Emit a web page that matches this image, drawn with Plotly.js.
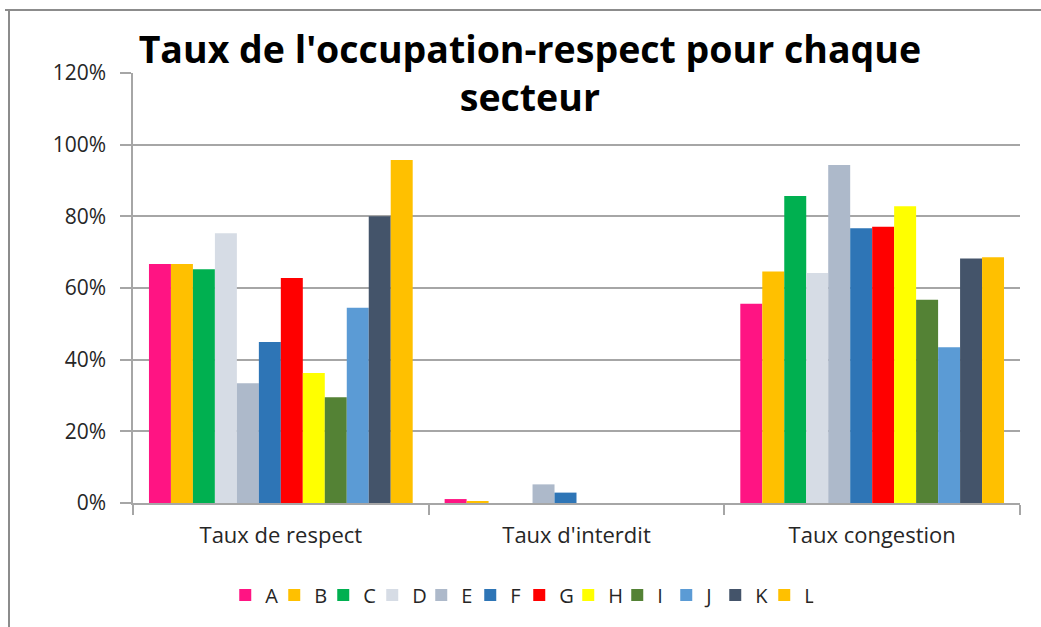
<!DOCTYPE html>
<html>
<head>
<meta charset="utf-8">
<script src="https://cdn.plot.ly/plotly-3.0.1.min.js"></script>
<style>
  html, body { margin: 0; padding: 0; background: #ffffff; }
  #chart { width: 1041px; height: 627px; }
</style>
</head>
<body>
<div id="chart"></div>
<script>
// Categories (x axis)
const categories = ["Taux de respect", "Taux d'interdit", "Taux congestion"];

// Series names (secteurs)
const seriesNames = ["A", "B", "C", "D", "E", "F", "G", "H", "I", "J", "K", "L"];

// Values per secteur, in category order
const A = [0.667, 0.011, 0.556];
const B = [0.667, 0.004, 0.646];
const C = [0.652, 0.000, 0.857];
const D = [0.753, 0.000, 0.642];
const E = [0.334, 0.052, 0.943];
const F = [0.449, 0.029, 0.767];
const G = [0.628, 0.000, 0.771];
const H = [0.363, 0.000, 0.828];
const I = [0.295, 0.000, 0.567];
const J = [0.545, 0.000, 0.435];
const K = [0.800, 0.000, 0.682];
const L = [0.957, 0.000, 0.686];

const seriesValues = [A, B, C, D, E, F, G, H, I, J, K, L];

const colors = ["#ff1483", "#ffc000", "#00b050", "#d6dce5", "#adb9ca", "#2e75b6",
                "#ff0000", "#ffff00", "#548235", "#5b9bd5", "#44546a", "#ffc000"];

const yTickVals = [0, 0.2, 0.4, 0.6, 0.8, 1.0, 1.2];
const yTickText = ["0%", "20%", "40%", "60%", "80%", "100%", "120%"];

const traces = seriesNames.map((name, i) => ({
  type: "bar",
  name: name,
  x: categories,
  y: seriesValues[i],
  marker: { color: colors[i], line: { width: 0 } },
  hovertemplate: "%{x}<br>" + name + ": %{y:.0%}<extra></extra>"
}));

const FONT = "'Open Sans', 'Noto Sans', sans-serif";
const axisGray = "#a6a6a6";

const layout = {
  width: 1041,
  height: 627,
  margin: { l: 133, r: 21, t: 73, b: 124 },
  paper_bgcolor: "#ffffff",
  plot_bgcolor: "#ffffff",
  font: { family: FONT, color: "#262626", size: 21 },
  title: {
    text: "<b>Taux de l'occupation-respect pour chaque<br>secteur</b>",
    font: { family: FONT, size: 37.5, color: "#000000" },
    x: 0.509, xanchor: "center",
    y: 0.9, yanchor: "middle",
    xref: "container", yref: "container"
  },
  barmode: "group",
  bargap: 0.108,
  bargroupgap: 0,
  showlegend: true,
  legend: {
    orientation: "h",
    x: 0.104, xanchor: "left",
    y: -0.214, yanchor: "middle",
    font: { family: FONT, size: 20, color: "#262626" },
    itemwidth: 30,
    entrywidth: 4,
    traceorder: "normal"
  },
  xaxis: {
    type: "category",
    showline: true,
    linecolor: axisGray,
    linewidth: 1.5,
    ticks: "outside",
    tickson: "boundaries",
    ticklen: 10,
    tickcolor: axisGray,
    tickwidth: 1.5,
    showgrid: false,
    ticklabelstandoff: 12,
    tickfont: { family: FONT, size: 22, color: "#262626" },
    fixedrange: true
  },
  yaxis: {
    range: [0, 1.2],
    tickvals: yTickVals,
    ticktext: yTickText,
    showline: true,
    linecolor: axisGray,
    linewidth: 1.5,
    ticks: "outside",
    ticklen: 11,
    tickcolor: axisGray,
    tickwidth: 1.5,
    showgrid: true,
    gridcolor: axisGray,
    gridwidth: 1.5,
    zeroline: false,
    ticklabelstandoff: 10,
    tickfont: { family: FONT, size: 21, color: "#262626" },
    fixedrange: true
  },
  shapes: [
    { type: "line", xref: "paper", yref: "paper",
      x0: -0.1443, x1: 1.0237, y0: 1.1465, y1: 1.1465,
      line: { color: "#8c8c8c", width: 2 } },
    { type: "line", xref: "paper", yref: "paper",
      x0: -0.1398, x1: -0.1398, y0: 1.1465, y1: -0.29,
      line: { color: "#8c8c8c", width: 2 } }
  ]
};

Plotly.newPlot("chart", traces, layout, { displayModeBar: false, staticPlot: false });
</script>
</body>
</html>
